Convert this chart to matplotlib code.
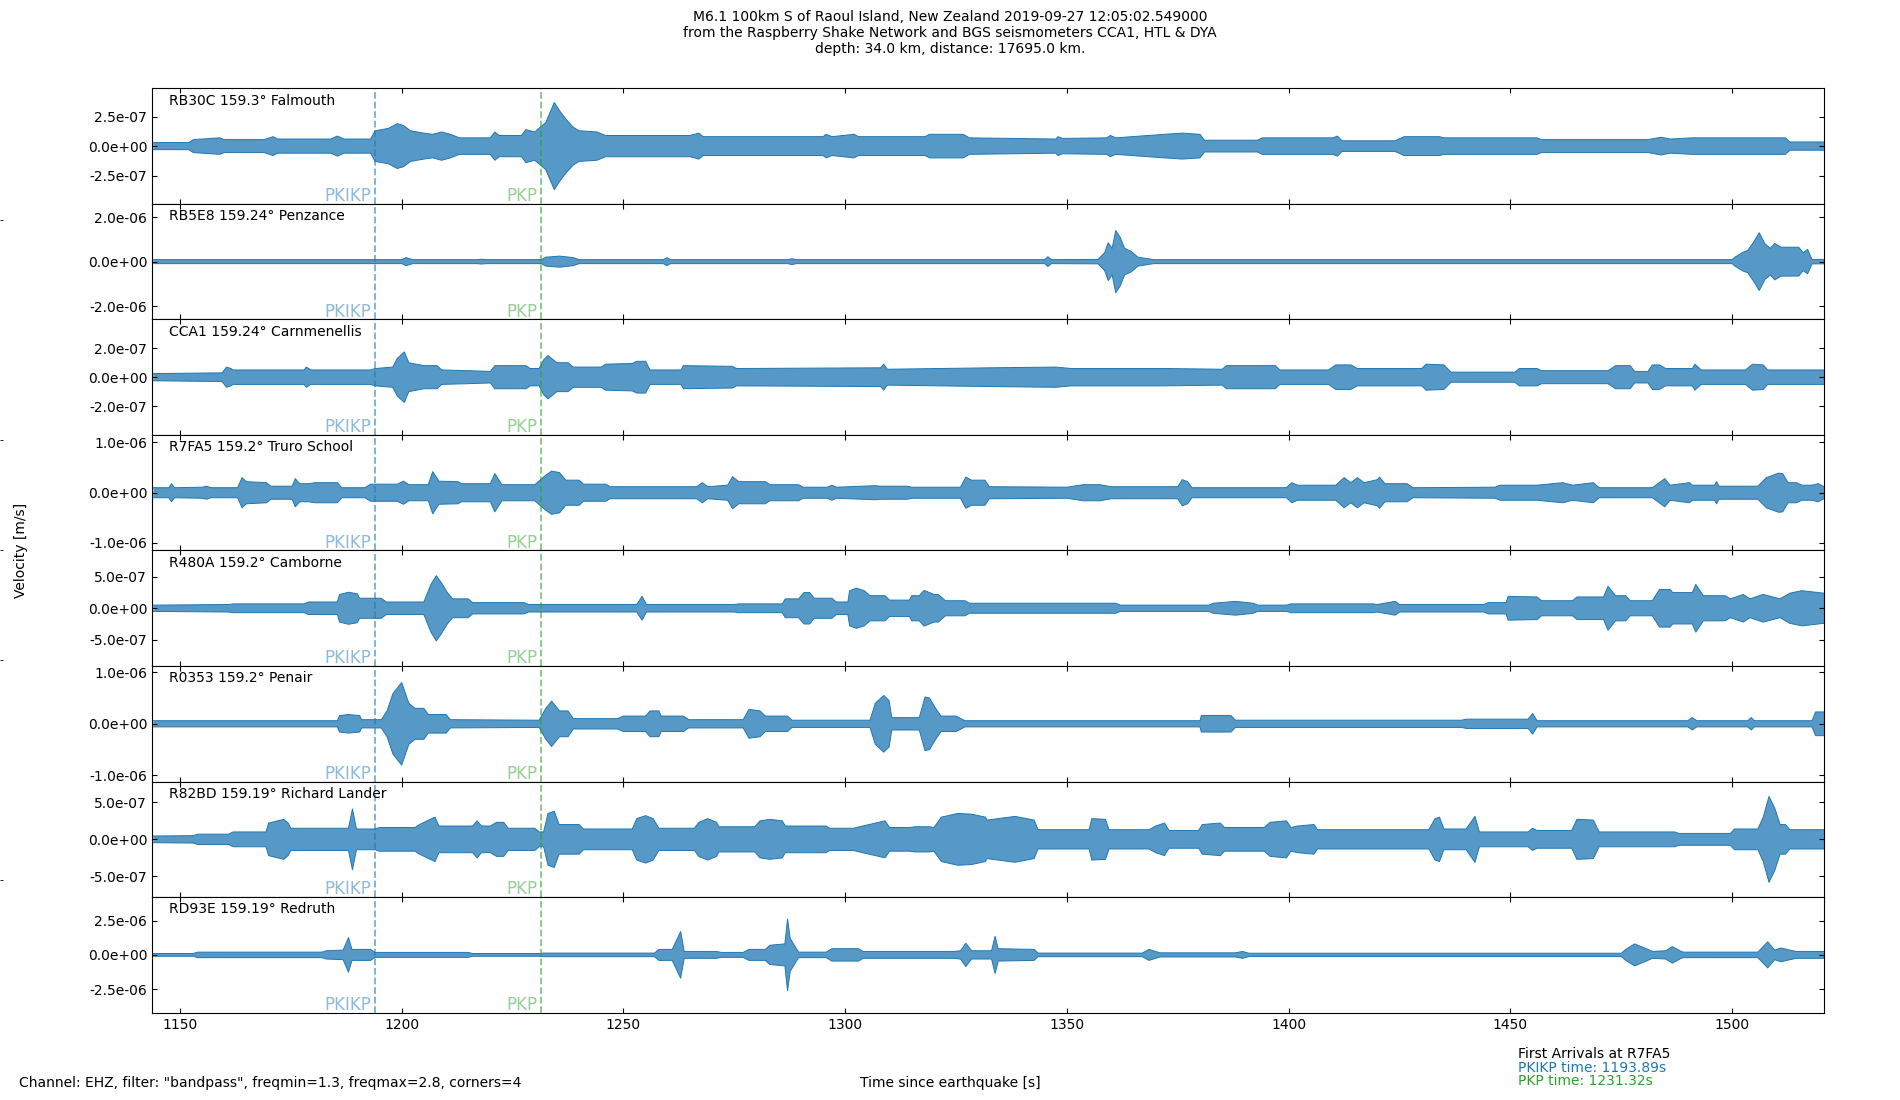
import matplotlib
matplotlib.use("Agg")
import matplotlib.pyplot as plt
from matplotlib.ticker import FormatStrFormatter

# ---------------- data ----------------
stations = ["RB30C", "RB5E8", "CCA1", "R7FA5", "R480A", "R0353", "R82BD", "RD93E"]
distances = ["159.3", "159.24", "159.24", "159.2", "159.2", "159.2", "159.19", "159.19"]
places = ["Falmouth", "Penzance", "Carnmenellis", "Truro School", "Camborne",
          "Penair", "Richard Lander", "Redruth"]
ytick_values = [2.5e-7, 2.0e-6, 2.0e-7, 1.0e-6, 5.0e-7, 1.0e-6, 5.0e-7, 2.5e-6]
ylim_values = [4.9e-7, 2.6e-6, 4.0e-7, 1.15e-6, 9.2e-7, 1.12e-6, 7.8e-7, 4.2e-6]
amp_unit = 1e-7

pkikp_time = 1193.89
pkp_time = 1231.32
time_start = 1143.7
time_end = 1520.7
xticks = [1150, 1200, 1250, 1300, 1350, 1400, 1450, 1500]

# envelope of each trace: (time [s], amplitude [1e-7 m/s])
RB30C_t = [1144, 1152, 1153, 1159, 1160, 1169, 1171, 1172, 1184, 1185.5, 1187, 1193, 1194, 1197,
           1199, 1200.4, 1202, 1205, 1207, 1209, 1211, 1213, 1220, 1221, 1222, 1227, 1228, 1230,
           1232.5, 1234.4, 1235.6, 1237, 1238.7, 1240, 1244, 1246, 1265, 1267, 1268, 1295, 1295.7,
           1297, 1302, 1303, 1318, 1319, 1326.6, 1328, 1347.5, 1348, 1349, 1359, 1359.8, 1361,
           1372, 1376, 1380, 1381, 1393, 1394, 1410, 1411, 1412, 1424, 1426, 1434, 1435, 1456,
           1457, 1481, 1484, 1486, 1491, 1512, 1513, 1520.7]
RB30C_a = [0.3, 0.3, 0.55, 0.7, 0.55, 0.55, 0.8, 0.6, 0.6, 0.85, 0.6, 0.6, 1.3, 1.5,
           1.9, 1.75, 1.3, 1.1, 1.0, 1.2, 1.0, 0.7, 0.7, 1.2, 0.9, 0.9, 1.4, 1.2,
           2.0, 3.7, 3.0, 2.3, 1.6, 1.3, 1.2, 0.9, 0.9, 1.1, 0.8, 0.8, 1.0,
           0.8, 1.0, 0.8, 0.8, 1.0, 1.0, 0.7, 0.6, 0.8, 0.65, 0.7, 0.9, 0.7,
           1.0, 1.1, 1.0, 0.5, 0.5, 0.7, 0.7, 0.85, 0.45, 0.45, 0.8, 0.8, 0.7, 0.7,
           0.55, 0.55, 0.75, 0.6, 0.7, 0.7, 0.35, 0.35]

RB5E8_t = [1144, 1200, 1201, 1202.5, 1217, 1218, 1219, 1231.5, 1232.5, 1235.6, 1238.7, 1240,
           1259, 1259.8, 1260.6, 1287, 1288, 1289, 1345, 1345.7, 1346.5, 1357, 1358.5, 1359.3,
           1360.2, 1361, 1362, 1363, 1364.5, 1366, 1368.6, 1369.5, 1500, 1500.6, 1502.4, 1503.5,
           1504.9, 1506.1, 1507.4, 1508.6, 1509.6, 1511, 1515, 1516, 1517, 1518, 1520.7]
RB5E8_a = [0.9, 0.9, 1.8, 0.9, 0.9, 1.1, 0.9, 0.9, 2.0, 2.5, 1.8, 0.9,
           0.9, 1.8, 0.9, 0.9, 1.3, 0.9, 0.9, 2.2, 0.9, 1.0, 4.0, 8.5,
           6.0, 14.0, 11.0, 6.0, 4.6, 2.0, 1.2, 0.9, 0.9, 2.0, 4.2, 5.0,
           9.0, 13.0, 8.0, 6.0, 8.2, 6.5, 6.5, 4.0, 5.5, 1.0, 1.0]

CCA1_t = [1144, 1159.5, 1160.5, 1161.5, 1162, 1178, 1178.5, 1179.5, 1193, 1194, 1198, 1199,
          1200.6, 1201.6, 1205, 1208, 1209, 1215, 1220, 1221, 1228, 1229, 1231, 1232, 1233,
          1235, 1237.5, 1238.7, 1245, 1246, 1252, 1253, 1255, 1256, 1263, 1263.5, 1274.6,
          1275.5, 1308, 1308.7, 1309.5, 1333, 1347.5, 1351, 1372, 1385, 1386, 1397, 1398, 1409,
          1410.6, 1414, 1415.5, 1430, 1431, 1435, 1436.6, 1451, 1452, 1456, 1457, 1472, 1473.7,
          1477, 1478, 1481, 1482, 1483.6, 1485, 1491, 1491.6, 1493, 1503, 1504.6, 1507, 1508,
          1520.7]
CCA1_a = [0.25, 0.3, 0.7, 0.6, 0.5, 0.5, 0.7, 0.5, 0.5, 0.6, 0.7, 1.3,
          1.75, 1.0, 0.8, 0.8, 0.5, 0.45, 0.4, 0.8, 0.8, 0.6, 0.6, 1.2, 1.5,
          1.0, 1.0, 0.7, 0.7, 0.9, 0.95, 1.1, 1.1, 0.5, 0.5, 0.8, 0.75,
          0.6, 0.65, 0.9, 0.55, 0.65, 0.7, 0.6, 0.6, 0.55, 0.8, 0.8, 0.5, 0.5,
          0.85, 0.85, 0.6, 0.6, 0.9, 0.85, 0.35, 0.35, 0.6, 0.6, 0.45, 0.45, 0.8,
          0.8, 0.4, 0.4, 0.85, 0.85, 0.6, 0.6, 0.9, 0.5, 0.5, 0.9, 0.85, 0.5,
          0.5]

R7FA5_t = [1144, 1147.5, 1148.1, 1148.8, 1155, 1156, 1157, 1163, 1164, 1165, 1169.5, 1170.5,
           1175.3, 1176, 1177, 1179, 1180.5, 1185.5, 1186.5, 1191.7, 1193, 1199, 1200.4, 1201.6,
           1206, 1207, 1208.4, 1212.7, 1213.5, 1220, 1221, 1222.6, 1230, 1232.5, 1233.8, 1235.6,
           1237, 1240, 1241, 1246, 1247, 1266.5, 1267.8, 1269, 1273.5, 1274.6, 1276, 1282, 1283,
           1289.5, 1290.5, 1296, 1297, 1298, 1306.8, 1308, 1314, 1315, 1326, 1327.2, 1328.5,
           1331.5, 1332.5, 1350, 1353.7, 1357.4, 1360, 1375, 1376, 1377.2, 1378.2, 1399.5,
           1400.7, 1402, 1410.6, 1412.5, 1414, 1415.5, 1417, 1420, 1420.5, 1421.7, 1426.7, 1428,
           1446.5, 1447.7, 1456, 1461.8, 1464, 1468.7, 1470, 1482, 1484.8, 1486, 1490.4, 1491,
           1496, 1496.5, 1497, 1505.8, 1507.7, 1510.5, 1511.4, 1512.6, 1514.5, 1515.7, 1518,
           1519.4, 1520.7]
R7FA5_a = [1.0, 1.0, 1.8, 1.0, 1.1, 1.3, 1.0, 1.0, 3.0, 2.2, 2.0, 1.3,
           1.3, 2.8, 1.8, 1.8, 2.0, 2.0, 1.0, 1.0, 1.7, 1.7, 2.3, 1.6,
           1.6, 4.2, 2.3, 2.2, 1.8, 1.8, 3.8, 1.6, 1.6, 3.5, 4.3, 4.0,
           2.5, 2.5, 1.7, 1.7, 1.2, 1.2, 2.0, 1.2, 1.5, 3.2, 2.2, 2.2, 1.6,
           1.6, 1.1, 1.1, 1.5, 1.1, 1.4, 1.3, 1.3, 1.1, 1.1, 3.1, 2.5,
           2.5, 1.2, 1.1, 1.6, 1.6, 1.2, 1.2, 2.6, 2.2, 1.0, 1.0,
           2.0, 1.5, 1.5, 3.0, 2.0, 3.0, 2.0, 2.6, 3.1, 1.8, 1.8, 1.0,
           1.1, 1.5, 1.5, 2.0, 1.5, 2.0, 1.0, 1.0, 2.8, 1.5, 2.0, 1.5,
           1.5, 2.2, 1.3, 1.3, 3.0, 3.9, 3.8, 2.0, 2.0, 1.5, 1.5,
           1.8, 1.2]

R480A_t = [1144, 1161, 1162, 1178, 1179, 1185.5, 1186, 1188, 1190, 1190.5, 1195.4, 1196.5, 1205,
           1206.6, 1207.8, 1209, 1210.3, 1211.5, 1215, 1216, 1227.6, 1228.6, 1253, 1254.2,
           1255.2, 1275, 1276, 1285.8, 1286.5, 1289.5, 1290.7, 1292, 1293, 1297, 1298, 1300.6,
           1301, 1302.5, 1304.3, 1305.6, 1309, 1310, 1314.5, 1315, 1316.7, 1317.8, 1320, 1321,
           1322.6, 1327, 1328, 1361, 1362, 1382, 1383, 1388, 1392, 1393, 1399.5, 1400.5, 1419,
           1420, 1424, 1425, 1444, 1445, 1449, 1449.5, 1456, 1457, 1464, 1465, 1471, 1472,
           1473.7, 1476, 1477, 1482, 1483.6, 1486, 1486.6, 1491, 1491.8, 1493.5, 1498.4, 1499.6,
           1502.5, 1504, 1507, 1510.8, 1513, 1515.7, 1520.7]
R480A_a = [0.5, 0.6, 0.7, 0.7, 1.0, 1.0, 2.2, 2.55, 2.3, 1.6, 1.6, 1.0, 1.0,
           3.8, 5.2, 4.0, 2.5, 1.5, 1.5, 0.9, 0.9, 0.6, 0.6, 1.9,
           0.6, 0.6, 0.7, 0.7, 1.5, 1.5, 2.5, 2.5, 1.6, 1.6, 1.0, 1.0,
           2.8, 3.2, 2.8, 2.0, 2.0, 1.3, 1.3, 2.0, 2.0, 2.85, 2.2, 2.2,
           1.2, 1.2, 0.8, 0.8, 0.5, 0.5, 0.8, 1.1, 0.8, 0.5, 0.5, 0.7, 0.7,
           0.6, 1.1, 0.6, 0.6, 0.9, 0.9, 1.9, 1.8, 1.2, 1.2, 1.8, 1.8, 3.5,
           2.0, 2.0, 1.2, 1.2, 3.0, 3.0, 2.5, 2.5, 3.8, 2.0, 2.0, 1.5,
           2.2, 1.5, 2.2, 1.5, 2.4, 2.8, 2.4]

R0353_t = [1144, 1185.5, 1186, 1188, 1190.5, 1191, 1195.4, 1196.7, 1198, 1198.5, 1200, 1201.6,
           1203, 1205, 1206, 1210, 1211, 1231, 1232.5, 1233.8, 1235.6, 1237.5, 1238.7, 1248.6,
           1250, 1255, 1256, 1258, 1258.5, 1263.5, 1264.7, 1277, 1278.3, 1280.8, 1282, 1287,
           1288, 1305.6, 1306.8, 1308.7, 1309.9, 1310.5, 1316.7, 1318, 1319, 1320.4, 1321.6,
           1325, 1327, 1380, 1380.3, 1387, 1388, 1439, 1440, 1454, 1455, 1456, 1490, 1491, 1492,
           1503.5, 1504.3, 1505, 1518, 1518.8, 1520.7]
R0353_a = [0.6, 0.6, 1.6, 1.8, 1.6, 0.8, 0.8, 2.5, 5.8, 6.4, 8.0, 4.0,
           3.0, 3.0, 1.8, 1.8, 0.8, 0.7, 3.0, 4.4, 2.5, 2.5, 1.0, 1.0,
           1.5, 1.5, 2.5, 2.5, 1.5, 1.5, 0.8, 0.8, 2.8, 2.5, 1.5, 1.5,
           0.7, 0.7, 4.0, 5.5, 4.5, 1.2, 1.2, 5.2, 5.0, 3.0, 1.5,
           1.5, 0.6, 0.6, 1.6, 1.6, 0.7, 0.7, 0.9, 0.9, 2.0, 0.6, 0.6, 1.2, 0.6,
           0.6, 1.2, 0.6, 0.6, 2.3, 2.3]

R82BD_t = [1144, 1153, 1154, 1161, 1162, 1169.4, 1170, 1173.4, 1174.4, 1175, 1188, 1188.9,
           1189.8, 1194, 1195, 1203, 1204, 1207.5, 1208.4, 1216, 1217, 1218, 1220, 1221.4, 1223,
           1224, 1230, 1231, 1232, 1233, 1234.4, 1235.5, 1240, 1241, 1252, 1253, 1255, 1256.7,
           1258, 1266, 1267, 1269, 1271, 1271.5, 1279.6, 1280.8, 1283, 1285.8, 1286.5, 1295.7,
           1296.5, 1301.9, 1302.5, 1309, 1310, 1314.5, 1315.7, 1319, 1320, 1321.7, 1325.4,
           1328.5, 1331.6, 1332, 1338.3, 1342.6, 1343.5, 1355, 1355.6, 1358.7, 1359.5, 1368.5,
           1370, 1372, 1373, 1379.7, 1380.5, 1384.6, 1385.5, 1394.5, 1395.8, 1399.5, 1400.5,
           1402, 1405.7, 1406.5, 1431.6, 1433, 1434, 1435, 1440, 1442, 1443, 1454, 1455, 1456,
           1463.8, 1465, 1468.7, 1470, 1487, 1488, 1499.6, 1500.5, 1505.8, 1507, 1508.3, 1509.6,
           1510.8, 1512, 1513, 1520.7]
R82BD_a = [0.45, 0.5, 0.7, 0.7, 1.0, 1.0, 2.2, 2.7, 2.2, 1.5, 1.5, 4.1,
           1.4, 1.4, 1.6, 1.6, 2.0, 3.0, 1.8, 1.8, 2.5, 1.8, 1.8, 2.3, 2.3,
           1.5, 1.5, 1.0, 1.0, 3.5, 3.8, 2.0, 2.0, 1.4, 1.4, 2.8, 3.2, 2.8,
           1.5, 1.5, 2.3, 2.8, 2.3, 1.7, 1.7, 2.5, 2.7, 2.5, 1.8, 1.8,
           1.5, 1.5, 1.6, 2.5, 1.6, 1.6, 1.7, 1.7, 1.6, 3.0, 3.5,
           3.4, 3.0, 2.6, 3.1, 2.6, 1.3, 1.3, 2.8, 2.7, 1.3, 1.3,
           1.8, 2.2, 1.2, 1.2, 2.0, 2.2, 1.6, 1.6, 2.3, 2.5, 1.6,
           1.8, 2.0, 1.3, 1.3, 2.8, 3.0, 1.4, 1.4, 3.1, 1.0, 1.0, 1.5, 1.2,
           1.2, 2.7, 2.6, 1.0, 1.0, 0.8, 0.8, 1.4, 1.4, 3.0, 5.8, 4.2,
           2.0, 2.0, 1.3, 1.3]

RD93E_t = [1144, 1153, 1154, 1182, 1183, 1186.8, 1188, 1188.8, 1193, 1194, 1215, 1216, 1231,
           1232, 1257, 1258, 1261, 1262.9, 1263.7, 1271, 1272, 1277, 1278.3, 1282, 1283, 1286.4,
           1287, 1287.6, 1288.9, 1289.5, 1295.7, 1297, 1303, 1304, 1324.4, 1326, 1327.2, 1328.5,
           1333, 1333.8, 1334.5, 1342.6, 1343.5, 1367, 1368.5, 1370, 1371, 1388, 1389.6, 1391,
           1475, 1476, 1478, 1481, 1482, 1485, 1486.5, 1488.5, 1489, 1505.8, 1508, 1509.6, 1511,
           1513, 1514.5, 1520.7]
RD93E_a = [1.0, 1.0, 2.0, 2.0, 3.0, 3.5, 12.6, 4.0, 4.0, 1.8, 1.8, 1.0, 1.0,
           1.3, 1.3, 4.0, 4.0, 17.0, 2.5, 2.5, 1.8, 1.8, 4.0, 4.0, 7.0, 8.0,
           26.0, 12.0, 5.0, 2.0, 2.0, 4.5, 4.5, 2.5, 2.5, 3.0, 8.5, 3.0,
           3.0, 13.5, 4.5, 4.0, 1.3, 1.3, 4.0, 2.5, 1.5, 1.5, 2.5, 1.2,
           1.2, 4.0, 8.0, 4.0, 2.5, 3.0, 6.0, 2.5, 2.0, 2.0, 9.5, 3.5, 5.0,
           3.5, 2.5, 2.5]

trace_times = [RB30C_t, RB5E8_t, CCA1_t, R7FA5_t, R480A_t, R0353_t, R82BD_t, RD93E_t]
trace_amps = [RB30C_a, RB5E8_a, CCA1_a, R7FA5_a, R480A_a, R0353_a, R82BD_a, RD93E_a]

title_lines = ["M6.1 100km S of Raoul Island, New Zealand 2019-09-27 12:05:02.549000",
               "from the Raspberry Shake Network and BGS seismometers CCA1, HTL & DYA",
               "depth: 34.0 km, distance: 17695.0 km."]

# ---------------- figure ----------------
fig, axes = plt.subplots(len(stations), 1, sharex=True, figsize=(19, 11), dpi=100)
fig.subplots_adjust(left=0.080, right=0.960, top=0.9197, bottom=0.0794, hspace=0)

for i, ax in enumerate(axes):
    t = trace_times[i]
    up = [a * amp_unit for a in trace_amps[i]]
    lo = [-a * amp_unit for a in trace_amps[i]]
    ax.fill_between(t, lo, up, facecolor="C0", alpha=0.75, linewidth=0)
    ax.plot(t, up, color="C0", linewidth=0.7)
    ax.plot(t, lo, color="C0", linewidth=0.7)
    ax.axvline(pkikp_time, color="C0", alpha=0.6, linestyle="--", linewidth=1.3)
    ax.axvline(pkp_time, color="C2", alpha=0.6, linestyle="--", linewidth=1.3)
    ax.annotate("PKIKP", xy=(pkikp_time, 0), xycoords=("data", "axes fraction"),
                xytext=(-2.5, -0.8), textcoords="offset points", ha="right", va="bottom",
                color="C0", alpha=0.5, fontsize=12)
    ax.annotate("PKP", xy=(pkp_time, 0), xycoords=("data", "axes fraction"),
                xytext=(-2.5, -0.8), textcoords="offset points", ha="right", va="bottom",
                color="C2", alpha=0.5, fontsize=12)
    ax.text(0.01, 0.955, f"{stations[i]} {distances[i]}° {places[i]}", transform=ax.transAxes,
            ha="left", va="top", fontsize=10)
    yv = ytick_values[i]
    ax.set_yticks([-yv, 0, yv])
    ax.yaxis.set_major_formatter(FormatStrFormatter("%.1e"))
    ax.set_ylim(-ylim_values[i], ylim_values[i])
    ax.set_xlim(time_start, time_end)
    ax.tick_params(axis="both", direction="in", top=True, right=True, labelsize=10)
    if i < len(stations) - 1:
        ax.tick_params(axis="x", labelbottom=False)

axes[-1].set_xticks(xticks)

# small marks at the left figure edge
edge_ax = fig.add_axes([0, 0, 1, 1], frameon=False)
edge_ax.set_xlim(0, 1)
edge_ax.set_ylim(0, 1)
edge_ax.set_xticks([])
edge_ax.set_yticks([0.2, 0.4, 0.5, 0.6, 0.8])
edge_ax.tick_params(axis="y", direction="in", length=2, width=0.6, labelleft=False)
edge_ax.patch.set_visible(False)
edge_ax.set_zorder(-1)

fig.text(0.5, 0.991, "\n".join(title_lines), ha="center", va="top", fontsize=10)
fig.text(0.011, 0.5, "Velocity [m/s]", rotation=90, ha="center", va="center", fontsize=10)
fig.text(0.5, 0.015, "Time since earthquake [s]", ha="center", va="center", fontsize=10)
fig.text(0.010, 0.015, 'Channel: EHZ, filter: "bandpass", freqmin=1.3, freqmax=2.8, corners=4',
         ha="left", va="center", fontsize=10)
fig.text(0.799, 0.0415, "First Arrivals at R7FA5", ha="left", va="center", fontsize=10)
fig.text(0.799, 0.0292, f"PKIKP time: {pkikp_time:.2f}s", ha="left", va="center",
         fontsize=10, color="C0")
fig.text(0.799, 0.0172, f"PKP time: {pkp_time:.2f}s", ha="left", va="center",
         fontsize=10, color="C2")

fig.savefig("out.png", dpi=100)
